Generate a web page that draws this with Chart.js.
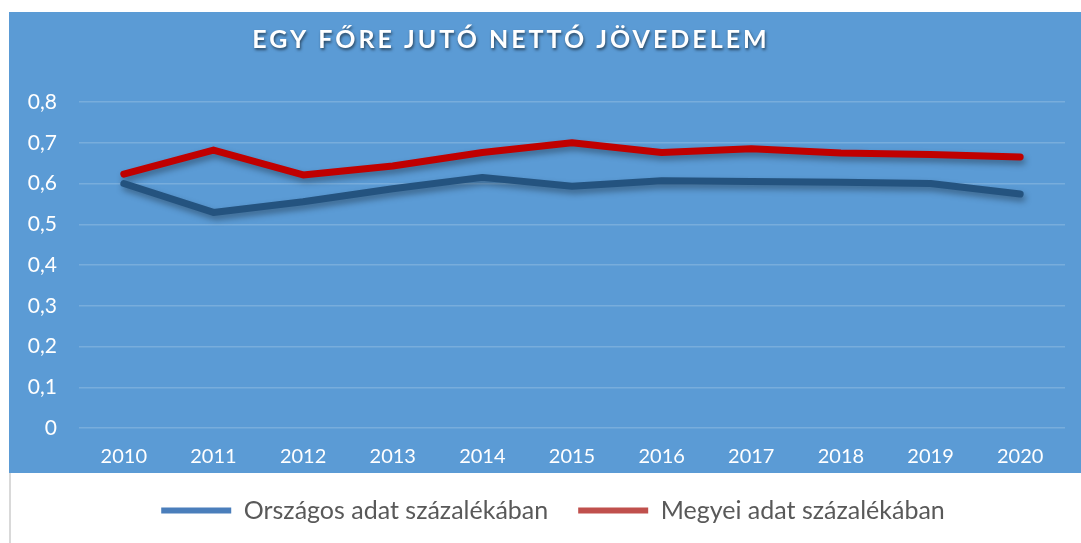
<!DOCTYPE html>
<html lang="hu">
<head>
    <meta charset="UTF-8">
    <title>Egy főre jutó nettó jövedelem</title>
    <script src="https://cdn.jsdelivr.net/npm/chart.js"></script>
    <style>
        html, body {
            margin: 0;
            padding: 0;
            background: #ffffff;
        }
        .wrap {
            position: relative;
            width: 1081px;
            height: 543px;
        }
    </style>
</head>
<body>
    <div class="wrap">
        <canvas id="incomeChart" width="1081" height="543"></canvas>
    </div>

    <script>
        // Data
        const chartTitle = 'EGY FŐRE JUTÓ NETTÓ JÖVEDELEM';
        const years = ['2010', '2011', '2012', '2013', '2014', '2015', '2016', '2017', '2018', '2019', '2020'];
        const orszagos = [0.600, 0.529, 0.555, 0.587, 0.615, 0.593, 0.607, 0.605, 0.603, 0.600, 0.574];
        const megyei = [0.623, 0.682, 0.621, 0.643, 0.676, 0.700, 0.676, 0.685, 0.675, 0.671, 0.665];
        const yTickLabels = ['0', '0,1', '0,2', '0,3', '0,4', '0,5', '0,6', '0,7', '0,8'];
        const seriesNames = ['Országos adat százalékában', 'Megyei adat százalékában'];

        const FONT = 'Lato, "Open Sans", sans-serif';

        // blue panel behind the plot, white strip for the legend
        const panelPlugin = {
            id: 'panel',
            beforeDraw(chart) {
                const ctx = chart.ctx;
                ctx.save();
                ctx.fillStyle = '#ffffff';
                ctx.fillRect(0, 0, chart.width, chart.height);
                ctx.fillStyle = '#5b9bd5';
                ctx.fillRect(9, 12, chart.width - 9, 461);
                ctx.fillStyle = '#d9d9d9';
                ctx.fillRect(9, 473, 2, chart.height - 473);
                ctx.restore();
            },
            afterDraw(chart) {
                const ctx = chart.ctx;
                ctx.save();
                ctx.font = 'bold 25px ' + FONT;
                ctx.letterSpacing = '3px';
                ctx.textAlign = 'center';
                ctx.textBaseline = 'middle';
                ctx.shadowColor = 'rgba(0, 0, 0, 0.55)';
                ctx.shadowBlur = 3;
                ctx.shadowOffsetX = 1;
                ctx.shadowOffsetY = 2;
                ctx.fillStyle = '#ffffff';
                ctx.fillText(chartTitle, 511, 40);
                ctx.restore();
            }
        };

        // nudge the legend box: a bit right and up, as in the original
        const legendNudge = {
            id: 'legendNudge',
            afterLayout(chart) {
                const lg = chart.legend;
                if (!lg) return;
                lg.left += 16;
                lg.right += 16;
                lg.top -= 10;
                lg.bottom -= 10;
            }
        };

        // soft shadow under the lines
        const shadowPlugin = {
            id: 'lineShadow',
            beforeDatasetsDraw(chart) {
                const ctx = chart.ctx;
                ctx.save();
                ctx.shadowColor = 'rgba(0, 0, 0, 0.35)';
                ctx.shadowBlur = 6;
                ctx.shadowOffsetX = 2;
                ctx.shadowOffsetY = 4;
            },
            afterDatasetsDraw(chart) {
                chart.ctx.restore();
            }
        };

        const legendColors = ['#4a7ebb', '#c0504d'];

        new Chart(document.getElementById('incomeChart'), {
            type: 'line',
            data: {
                labels: years,
                datasets: [
                    {
                        label: seriesNames[0],
                        data: orszagos,
                        borderColor: '#24537f',
                        borderWidth: 7,
                        pointRadius: 0,
                        borderCapStyle: 'round',
                        borderJoinStyle: 'round',
                        tension: 0
                    },
                    {
                        label: seriesNames[1],
                        data: megyei,
                        borderColor: '#c00000',
                        borderWidth: 7,
                        pointRadius: 0,
                        borderCapStyle: 'round',
                        borderJoinStyle: 'round',
                        tension: 0
                    }
                ]
            },
            options: {
                responsive: false,
                animation: false,
                layout: {
                    padding: { left: 9, right: 16, top: 102, bottom: 0 }
                },
                scales: {
                    x: {
                        offset: true,
                        grid: { display: false },
                        border: { display: false },
                        ticks: {
                            color: '#ffffff',
                            font: { family: FONT, size: 20 },
                            padding: 9,
                            maxRotation: 0
                        }
                    },
                    y: {
                        min: 0,
                        max: 0.8,
                        afterFit(scale) { scale.width = 70; },
                        grid: {
                            color: 'rgba(255, 255, 255, 0.18)',
                            lineWidth: 1.5,
                            drawTicks: false
                        },
                        border: { display: false },
                        ticks: {
                            stepSize: 0.1,
                            color: '#ffffff',
                            font: { family: FONT, size: 21 },
                            padding: 22,
                            callback: function (value) {
                                return yTickLabels[Math.round(value * 10)];
                            }
                        }
                    }
                },
                plugins: {
                    legend: {
                        position: 'bottom',
                        labels: {
                            color: '#595959',
                            font: { family: FONT, size: 25 },
                            boxWidth: 70,
                            boxHeight: 6,
                            padding: 30,
                            useBorderRadius: true,
                            borderRadius: 3,
                            generateLabels: function (chart) {
                                return chart.data.datasets.map((ds, i) => ({
                                    text: ds.label,
                                    fillStyle: legendColors[i],
                                    strokeStyle: legendColors[i],
                                    lineWidth: 0,
                                    fontColor: '#595959',
                                    datasetIndex: i,
                                    hidden: false
                                }));
                            }
                        }
                    },
                    title: { display: false },
                    tooltip: { enabled: false }
                }
            },
            plugins: [panelPlugin, shadowPlugin, legendNudge]
        });
    </script>
</body>
</html>
